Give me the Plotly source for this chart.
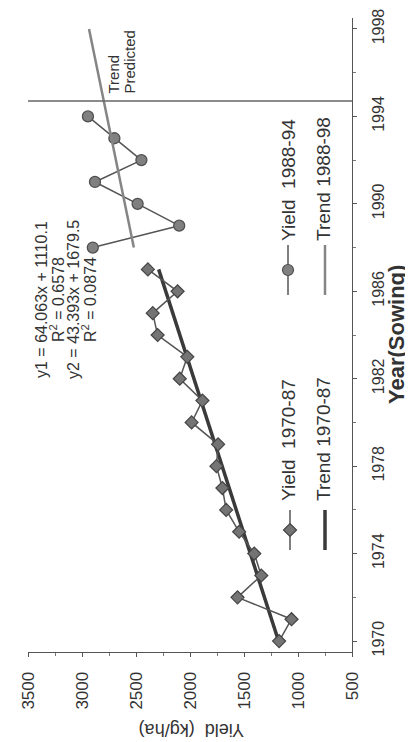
import plotly.graph_objects as go

# ---------------- data ----------------
years1 = [1970, 1971, 1972, 1973, 1974, 1975, 1976, 1977, 1978,
          1979, 1980, 1981, 1982, 1983, 1984, 1985, 1986, 1987]
yield1 = [1175, 1060, 1560, 1340, 1405, 1545, 1665, 1700, 1755,
          1740, 1985, 1885, 2095, 2025, 2300, 2345, 2115, 2390]

years2 = [1988, 1989, 1990, 1991, 1992, 1993, 1994]
yield2 = [2900, 2100, 2485, 2880, 2450, 2700, 2945]

trend1_years = [1970, 1987]
trend1_vals = [1180, 2290]
trend2_years = [1988, 1998]
trend2_vals = [2520, 2935]

predicted_year = 1994.7

eq_lines = ["y1 = 64.063x + 1110.1", "R<sup>2</sup> = 0.6578",
            "y2 = 43.393x + 1679.5", "R<sup>2</sup> = 0.0874"]
legend_names = ["Yield  1970-87", "Trend 1970-87", "Yield  1988-94", "Trend 1988-98"]

# ---------------- layout helpers (screen pixel frame) ----------------
OFF = 8                      # page body margin of the browser
W, H = 413 - OFF, 742 - OFF  # figure size so it fits in the window
PL, PR, PT, PB = 28, 352, 18, 652   # plot area in screen pixels


def px(xp):
    return (xp - PL) / (PR - PL)


def py(yp):
    return 1 - (yp - PT) / (PB - PT)


FONT = "Liberation Sans, Arial, sans-serif"
TXT = "#333333"

fig = go.Figure()

# trend lines and series
fig.add_trace(go.Scatter(x=trend1_vals, y=trend1_years, mode="lines",
                         line=dict(color="#3a3a3a", width=3.5), showlegend=False))
fig.add_trace(go.Scatter(x=yield1, y=years1, mode="lines+markers",
                         line=dict(color="#555555", width=1.5),
                         marker=dict(symbol="diamond", size=10, color="#747474",
                                     line=dict(color="#444444", width=1.2)),
                         showlegend=False))
fig.add_trace(go.Scatter(x=yield2, y=years2, mode="lines+markers",
                         line=dict(color="#555555", width=1.5),
                         marker=dict(symbol="circle", size=11, color="#808080",
                                     line=dict(color="#505050", width=1.3)),
                         showlegend=False))
fig.add_trace(go.Scatter(x=trend2_vals, y=trend2_years, mode="lines",
                         line=dict(color="#858585", width=2.5), showlegend=False))

# predicted divider
fig.add_shape(type="line", xref="x", yref="y", x0=3500, x1=500,
              y0=predicted_year, y1=predicted_year,
              line=dict(color="#666666", width=1.5))

# ---------------- manual rotated legend (hidden pixel axes) ----------------
leg = [
    dict(x=290, y0=550, y1=510, color="#555555", width=1.5, sym="diamond", msize=10,
         mcol="#747474", mline="#444444", tx=288, ty=503),
    dict(x=325, y0=550, y1=510, color="#3a3a3a", width=3.5, sym=None,
         tx=323, ty=503),
    dict(x=288, y0=295, y1=245, color="#555555", width=1.5, sym="circle", msize=11,
         mcol="#808080", mline="#505050", tx=288, ty=243),
    dict(x=325, y0=295, y1=245, color="#858585", width=2.5, sym=None,
         tx=323, ty=243),
]
for item in leg:
    fig.add_trace(go.Scatter(x=[item["x"], item["x"]], y=[item["y0"], item["y1"]],
                             mode="lines", line=dict(color=item["color"], width=item["width"]),
                             xaxis="x2", yaxis="y2", showlegend=False, hoverinfo="skip"))
    if item["sym"]:
        fig.add_trace(go.Scatter(x=[item["x"]], y=[(item["y0"] + item["y1"]) / 2],
                                 mode="markers",
                                 marker=dict(symbol=item["sym"], size=item["msize"],
                                             color=item["mcol"],
                                             line=dict(color=item["mline"], width=1.2)),
                                 xaxis="x2", yaxis="y2", showlegend=False, hoverinfo="skip"))

annotations = []
for item, name in zip(leg, legend_names):
    annotations.append(dict(x=item["tx"], y=item["ty"], xref="x2", yref="y2", text=name,
                            textangle=-90, showarrow=False, xanchor="center", yanchor="bottom",
                            font=dict(family=FONT, size=19, color=TXT)))

# regression equations
eq_x = [41, 57, 73, 89]
for xx, t in zip(eq_x, eq_lines):
    annotations.append(dict(x=xx, y=300, xref="x2", yref="y2", text=t, textangle=-90,
                            showarrow=False, xanchor="center", yanchor="middle",
                            font=dict(family=FONT, size=16, color=TXT)))

# Trend / Predicted labels
annotations.append(dict(x=113, y=96, xref="x2", yref="y2", text="Trend", textangle=-90,
                        showarrow=False, xanchor="center", yanchor="bottom",
                        font=dict(family=FONT, size=15, color=TXT)))
annotations.append(dict(x=129, y=96, xref="x2", yref="y2", text="Predicted", textangle=-90,
                        showarrow=False, xanchor="center", yanchor="bottom",
                        font=dict(family=FONT, size=15, color=TXT)))

# axis titles
annotations.append(dict(x=px(396), y=py(335), xref="paper", yref="paper",
                        text="<b>Year(Sowing)</b>", textangle=-90, showarrow=False,
                        xanchor="center", yanchor="middle",
                        font=dict(family=FONT, size=22, color=TXT)))
annotations.append(dict(x=px(192), y=py(730), xref="paper", yref="paper",
                        text="Yield  (kg/ha)", textangle=180, showarrow=False,
                        xanchor="center", yanchor="middle",
                        font=dict(family=FONT, size=18, color=TXT)))

fig.update_layout(
    width=W, height=H,
    margin=dict(l=PL - OFF, r=413 - PR, t=PT - OFF, b=742 - PB, autoexpand=False),
    paper_bgcolor="white", plot_bgcolor="white",
    showlegend=False,
    annotations=annotations,
    xaxis=dict(range=[3500, 500], tickmode="linear", tick0=500, dtick=500,
               tickangle=-90, showline=True, linecolor="#555555", linewidth=1,
               ticks="outside", ticklen=4, tickcolor="#555555",
               minor=dict(dtick=250, ticks="outside", ticklen=3, tickcolor="#777777"),
               showgrid=False, zeroline=False, ticklabelstandoff=8, automargin=False,
               tickfont=dict(family=FONT, size=17, color=TXT)),
    yaxis=dict(range=[1969.5, 1998.5], side="right", tickmode="linear", tick0=1970, dtick=4,
               tickangle=-90, showline=True, linecolor="#555555", linewidth=1,
               ticks="outside", ticklen=4, tickcolor="#555555",
               minor=dict(dtick=2, ticks="outside", ticklen=3, tickcolor="#777777"),
               showgrid=False, zeroline=False, ticklabelstandoff=8, automargin=False,
               tickfont=dict(family=FONT, size=16, color=TXT)),
    xaxis2=dict(range=[PL, PR], overlaying="x", visible=False, anchor="y2"),
    yaxis2=dict(range=[PB, PT], overlaying="y", visible=False, anchor="x2"),
)

fig.write_html("out.html")
